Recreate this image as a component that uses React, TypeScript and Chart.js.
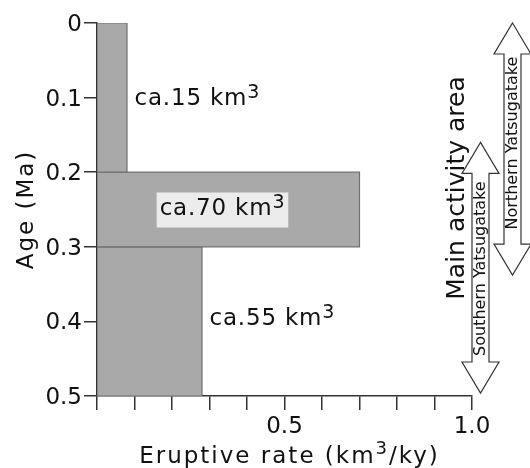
import React, { useEffect, useRef } from "react";
import { Chart, registerables } from "chart.js";

Chart.register(...registerables);

const FONT = "'DejaVu Sans', 'Liberation Sans', sans-serif";

// Eruptive stages (age in Ma, rate in km3/ky)
const ageStart = [0, 0.2, 0.3];
const ageEnd = [0.2, 0.3, 0.5];
const eruptiveRate = [0.08, 0.7, 0.28];
const volumeKm3 = [15, 70, 55];
// label anchor (rate, age) for each stage's volume label
const labelRate = [0.1, 0.167, 0.3];
const labelAge = [0.102, 0.25, 0.397];

// axes
const yTickValues = [0, 0.1, 0.2, 0.3, 0.4, 0.5];
const yTickLabels = ["0", "0.1", "0.2", "0.3", "0.4", "0.5"];
const xTickValues = [0, 0.1, 0.2, 0.3, 0.4, 0.5, 0.6, 0.7, 0.8, 0.9, 1.0];
const xTickLabels = ["", "", "", "", "", "0.5", "", "", "", "", "1.0"];
const xTitle = ["Eruptive rate (km", "3", "/ky)"];
const yTitle = "Age (Ma)";

// main activity areas (age ranges, Ma)
const areaTitle = "Main activity area";
const areaNames = ["Northern Yatsugatake", "Southern Yatsugatake"];
const areaAgeFrom = [0, 0.16];
const areaAgeTo = [0.338, 0.496];

const AREA_X = [512.5, 480.5];
const AREA_TEXT_SHIFT = [-6, 1];

function setSpacing(ctx: any, px: number) {
  if ("letterSpacing" in ctx) ctx.letterSpacing = `${px}px`;
}

const annotations = {
  id: "annotations",
  afterDatasetsDraw(chart: any) {
    const { ctx, scales } = chart;
    const x = scales.x;
    const y = scales.y;
    ctx.save();
    volumeKm3.forEach((v, i) => {
      const px = x.getPixelForValue(labelRate[i]);
      const py = y.getPixelForValue(labelAge[i]);
      const main = `ca.${v} km`;
      setSpacing(ctx, 0.8);
      ctx.font = `23px ${FONT}`;
      const w = ctx.measureText(main).width;
      ctx.font = `19px ${FONT}`;
      const w3 = ctx.measureText("3").width;
      if (i === 1) {
        ctx.fillStyle = "#ececec";
        ctx.fillRect(px - 3, py - 17, w + w3 + 6, 35);
      }
      ctx.fillStyle = "#111";
      ctx.textAlign = "left";
      ctx.textBaseline = "middle";
      ctx.font = `23px ${FONT}`;
      ctx.fillText(main, px, py);
      ctx.textBaseline = "alphabetic";
      ctx.font = `19px ${FONT}`;
      ctx.fillText("3", px + w, py - 1.5);
    });
    ctx.restore();
  },
  afterDraw(chart: any) {
    const { ctx, scales, chartArea } = chart;
    const y = scales.y;
    const x = scales.x;

    // axis titles
    ctx.save();
    ctx.fillStyle = "#111";
    setSpacing(ctx, 2);
    ctx.font = `23px ${FONT}`;
    const w1 = ctx.measureText(xTitle[0]).width;
    const w3 = ctx.measureText(xTitle[2]).width;
    ctx.font = `18px ${FONT}`;
    const w2 = ctx.measureText(xTitle[1]).width;
    const total = w1 + w2 + w3;
    const cx = (x.left + x.right) / 2 + 5;
    let sx = cx - total / 2;
    const base = 463;
    ctx.textAlign = "left";
    ctx.textBaseline = "alphabetic";
    ctx.font = `23px ${FONT}`;
    ctx.fillText(xTitle[0], sx, base);
    sx += w1;
    ctx.font = `18px ${FONT}`;
    ctx.fillText(xTitle[1], sx, base - 9);
    sx += w2;
    ctx.font = `23px ${FONT}`;
    ctx.fillText(xTitle[2], sx, base);
    ctx.restore();

    ctx.save();
    ctx.fillStyle = "#111";
    setSpacing(ctx, 2);
    ctx.font = `23px ${FONT}`;
    ctx.translate(33, (chartArea.top + chartArea.bottom) / 2);
    ctx.rotate(-Math.PI / 2);
    ctx.textAlign = "center";
    ctx.textBaseline = "alphabetic";
    ctx.fillText(yTitle, 0, 0);
    ctx.restore();

    // Main activity area label
    ctx.save();
    ctx.translate(464, 188);
    ctx.rotate(-Math.PI / 2);
    ctx.font = `25px ${FONT}`;
    ctx.fillStyle = "#111";
    ctx.textAlign = "center";
    ctx.textBaseline = "alphabetic";
    ctx.fillText(areaTitle, 0, 0);
    ctx.restore();

    areaNames.forEach((name, i) => {
      const cx = AREA_X[i];
      const ty = y.getPixelForValue(areaAgeFrom[i]);
      const by = y.getPixelForValue(areaAgeTo[i]);
      const sw = 8.5, hw = 18.5, hl = 31;
      ctx.save();
      ctx.beginPath();
      ctx.moveTo(cx, ty);
      ctx.lineTo(cx + hw, ty + hl);
      ctx.lineTo(cx + sw, ty + hl);
      ctx.lineTo(cx + sw, by - hl);
      ctx.lineTo(cx + hw, by - hl);
      ctx.lineTo(cx, by);
      ctx.lineTo(cx - hw, by - hl);
      ctx.lineTo(cx - sw, by - hl);
      ctx.lineTo(cx - sw, ty + hl);
      ctx.lineTo(cx - hw, ty + hl);
      ctx.closePath();
      ctx.fillStyle = "#fff";
      ctx.fill();
      ctx.strokeStyle = "#333";
      ctx.lineWidth = 1.2;
      ctx.stroke();
      ctx.translate(cx, (ty + by) / 2 + AREA_TEXT_SHIFT[i]);
      ctx.rotate(-Math.PI / 2);
      ctx.font = `16px ${FONT}`;
      ctx.fillStyle = "#111";
      ctx.textAlign = "center";
      ctx.textBaseline = "middle";
      ctx.fillText(name, 0, 0);
      ctx.restore();
    });
  },
};

export default function App() {
  const ref = useRef<HTMLCanvasElement>(null);
  useEffect(() => {
    const datasets = ageStart.map((a0, i) => ({
      label: `stage ${i + 1}`,
      data: [
        { x: 0, y: a0 },
        { x: eruptiveRate[i], y: a0 },
        { x: eruptiveRate[i], y: ageEnd[i] },
        { x: 0, y: ageEnd[i] },
        { x: 0, y: a0 },
      ],
      showLine: true,
      fill: "shape",
      backgroundColor: "#a9a9a9",
      borderColor: "#707070",
      borderWidth: 1.2,
      pointRadius: 0,
      tension: 0,
    }));
    const chart = new Chart(ref.current as HTMLCanvasElement, {
      type: "scatter",
      data: { datasets } as any,
      options: {
        animation: false,
        responsive: false,
        layout: { padding: { left: 0, top: 23, right: 58, bottom: 0 } },
        plugins: { legend: { display: false }, tooltip: { enabled: false } },
        scales: {
          x: {
            type: "linear",
            min: 0,
            max: 1,
            afterBuildTicks: (s: any) => {
              s.ticks = xTickValues.map((v) => ({ value: v }));
            },
            afterFit: (s: any) => {
              s.height = 72;
            },
            ticks: {
              autoSkip: false,
              maxRotation: 0,
              padding: 3,
              color: "#111",
              font: { family: FONT, size: 23 },
              callback: (_v: any, i: number) => xTickLabels[i],
            },
            grid: {
              drawOnChartArea: false,
              drawTicks: true,
              tickLength: 14,
              color: "#333",
              lineWidth: 1.5,
            },
            border: { display: true, color: "#333", width: 1.5 },
            title: { display: false },
          },
          y: {
            type: "linear",
            min: 0,
            max: 0.5,
            reverse: true,
            afterBuildTicks: (s: any) => {
              s.ticks = yTickValues.map((v) => ({ value: v }));
            },
            afterFit: (s: any) => {
              s.width = 97;
            },
            ticks: {
              padding: 2,
              crossAlign: "near",
              labelOffset: 2,
              color: "#111",
              font: { family: FONT, size: 23 },
              callback: (_v: any, i: number) => yTickLabels[i],
            },
            grid: {
              drawOnChartArea: false,
              drawTicks: true,
              tickLength: 13,
              color: "#333",
              lineWidth: 1.5,
            },
            border: { display: true, color: "#333", width: 1.5 },
            title: { display: false },
          },
        },
      } as any,
      plugins: [annotations],
    });
    return () => chart.destroy();
  }, []);
  return (
    <div style={{ position: "absolute", left: 0, top: 0, width: 530, height: 468, background: "#fff" }}>
      <canvas ref={ref} width={530} height={468} style={{ display: "block" }} />
    </div>
  );
}
